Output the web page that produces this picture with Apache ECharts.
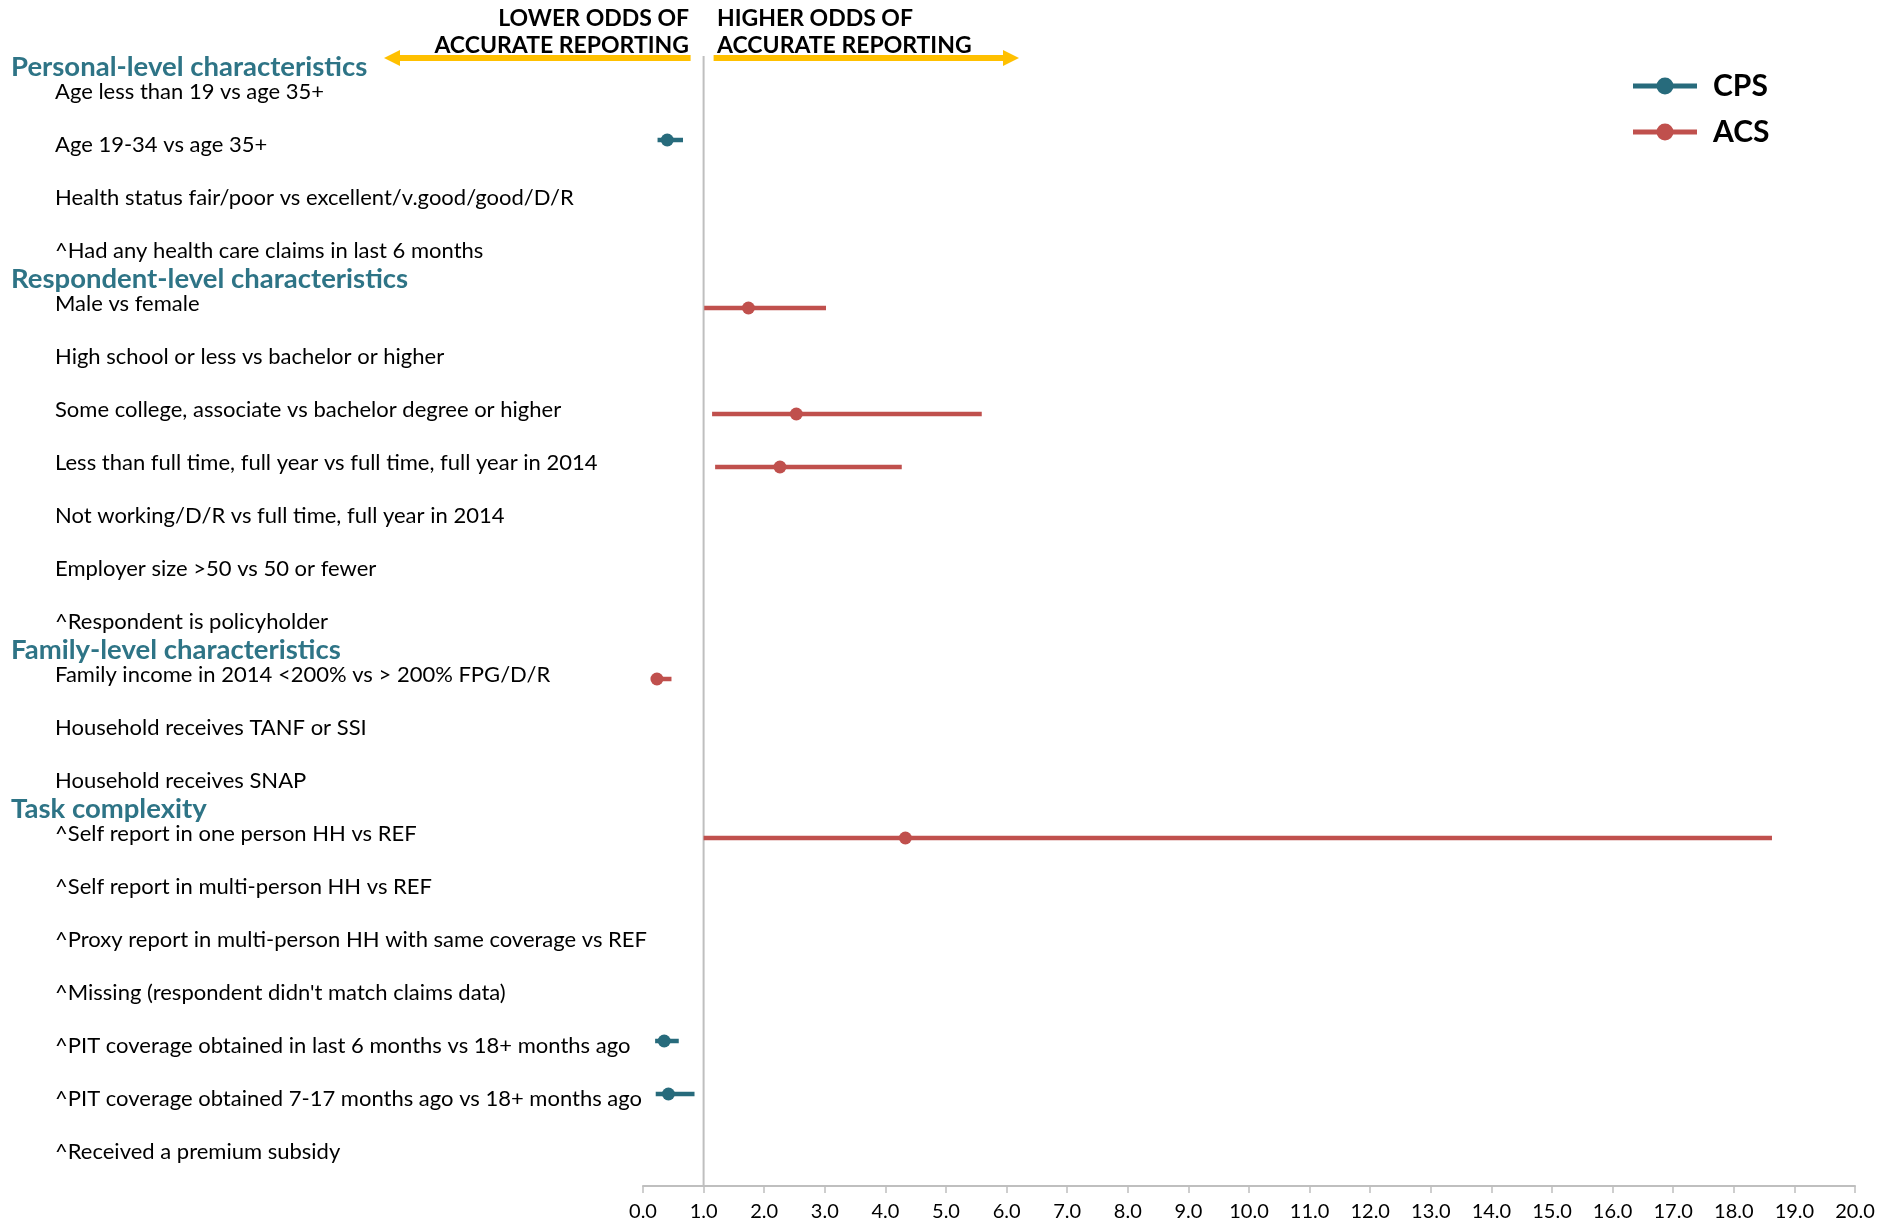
<!DOCTYPE html>
<html>
<head>
<meta charset="utf-8">
<script src="https://cdn.jsdelivr.net/npm/echarts@6/dist/echarts.min.js"></script>
<style>
  html, body { margin: 0; padding: 0; background: #ffffff; }
  #chart { width: 1881px; height: 1222px; }
</style>
</head>
<body>
<div id="chart"></div>
<script>
// Row labels, top to bottom
const categories = [
  'Age less than 19 vs age 35+',
  'Age 19-34 vs age 35+',
  'Health status fair/poor vs excellent/v.good/good/D/R',
  '^Had any health care claims in last 6 months',
  'Male vs female',
  'High school or less vs bachelor or higher',
  'Some college, associate vs bachelor degree or higher',
  'Less than full time, full year vs full time, full year in 2014',
  'Not working/D/R vs full time, full year in 2014',
  'Employer size >50 vs 50 or fewer',
  '^Respondent is policyholder',
  'Family income in 2014 <200% vs > 200% FPG/D/R',
  'Household receives TANF or SSI',
  'Household receives SNAP',
  '^Self report in one person HH vs REF',
  '^Self report in multi-person HH vs REF',
  '^Proxy report in multi-person HH with same coverage vs REF',
  "^Missing (respondent didn't match claims data)",
  '^PIT coverage obtained in last 6 months vs 18+ months ago',
  '^PIT coverage obtained 7-17 months ago vs 18+ months ago',
  '^Received a premium subsidy'
];

// Group headings and the row each one sits above
const sectionNames = [
  'Personal-level characteristics',
  'Respondent-level characteristics',
  'Family-level characteristics',
  'Task complexity'
];
const sectionFirstRow = [0, 4, 11, 14];

// CPS odds ratios with confidence interval
const cpsRows  = [1, 18, 19];
const cpsPoint = [0.40, 0.35, 0.42];
const cpsLow   = [0.24, 0.20, 0.21];
const cpsHigh  = [0.66, 0.59, 0.85];

// ACS odds ratios with confidence interval
const acsRows  = [4, 6, 7, 11, 14];
const acsPoint = [1.74, 2.53, 2.26, 0.23, 4.33];
const acsLow   = [1.01, 1.14, 1.19, 0.17, 1.00];
const acsHigh  = [3.02, 5.59, 4.27, 0.47, 18.63];

// Odds-ratio axis
const xMin = 0;
const xMax = 20;
const xStep = 1;
const referenceValue = 1;

const CPS_COLOR = '#276B7C';
const ACS_COLOR = '#C0504D';
const HEAD_COLOR = '#2E7486';
const ARROW_COLOR = '#FFC000';
const GRID_COLOR = '#BFBFBF';
const FONT = 'Lato, "Open Sans", sans-serif';

function rowsToData(rows, low, high, point) {
  return rows.map((r, i) => [r, low[i], high[i], point[i]]);
}

// Interval line plus point marker, nudged up or down inside its row
function errorBar(shiftY) {
  return function (params, api) {
    const row = api.value(0);
    const a = api.coord([api.value(1), row]);
    const b = api.coord([api.value(2), row]);
    const m = api.coord([api.value(3), row]);
    const color = api.visual('color');
    return {
      type: 'group',
      children: [
        { type: 'line',
          shape: { x1: a[0], y1: a[1] + shiftY, x2: b[0], y2: b[1] + shiftY },
          style: { stroke: color, lineWidth: 4.5 } },
        { type: 'circle',
          shape: { cx: m[0], cy: m[1] + shiftY, r: 6.5 },
          style: { fill: color } }
      ]
    };
  };
}

const legendIcon = 'path://M0,6 L64,6 L64,11 L0,11 Z M32,0 A8.5,8.5 0 1 1 32,17 A8.5,8.5 0 1 1 32,0 Z';

const chart = echarts.init(document.getElementById('chart'), null, { renderer: 'canvas' });

chart.setOption({
  animation: false,
  backgroundColor: '#ffffff',
  grid: { left: 643, right: 26, top: 65, bottom: 44, containLabel: false },
  legend: {
    orient: 'vertical',
    left: 1628,
    top: 66,
    itemWidth: 64,
    itemHeight: 17,
    itemGap: 16,
    icon: legendIcon,
    textStyle: { fontFamily: FONT, fontWeight: 'bold', fontSize: 30, color: '#000', padding: [0, 0, 0, 11] },
    data: ['CPS', 'ACS']
  },
  xAxis: {
    type: 'value',
    min: xMin,
    max: xMax,
    interval: xStep,
    offset: 8,
    splitLine: { show: false },
    axisLine: { show: true, lineStyle: { color: GRID_COLOR, width: 2 } },
    axisTick: { show: true, length: 7, lineStyle: { color: GRID_COLOR, width: 1.5 } },
    axisLabel: {
      margin: 16,
      fontFamily: FONT,
      fontSize: 20,
      color: '#000',
      formatter: v => v.toFixed(1)
    }
  },
  yAxis: {
    type: 'category',
    data: categories,
    inverse: true,
    axisLine: { show: false },
    axisTick: { show: false },
    splitLine: { show: false },
    axisLabel: {
      align: 'left',
      margin: 588,
      fontFamily: FONT,
      fontSize: 22,
      color: '#000',
      padding: [0, 0, 8, 0],
      interval: 0
    }
  },
  series: [
    {
      name: 'CPS',
      type: 'custom',
      itemStyle: { color: CPS_COLOR },
      encode: { x: [1, 2, 3], y: 0 },
      renderItem: errorBar(-4.5),
      data: rowsToData(cpsRows, cpsLow, cpsHigh, cpsPoint),
      z: 3
    },
    {
      name: 'ACS',
      type: 'custom',
      itemStyle: { color: ACS_COLOR },
      encode: { x: [1, 2, 3], y: 0 },
      renderItem: errorBar(4.5),
      data: rowsToData(acsRows, acsLow, acsHigh, acsPoint),
      z: 3
    }
  ]
});

// Reference line at odds ratio 1, headings and direction arrows
const refX = chart.convertToPixel({ xAxisIndex: 0 }, referenceValue);
const axisY = chart.getHeight() - 44 + 8;
const bandHalf = (chart.convertToPixel({ yAxisIndex: 0 }, 1) - chart.convertToPixel({ yAxisIndex: 0 }, 0)) / 2;

const headings = sectionNames.map((name, i) => ({
  type: 'text',
  x: 11,
  y: chart.convertToPixel({ yAxisIndex: 0 }, sectionFirstRow[i]) - bandHalf + 2,
  style: { text: name, align: 'left', verticalAlign: 'middle', fontFamily: FONT, fontWeight: 'bold', fontSize: 27.5, fill: HEAD_COLOR }
}));

const arrowY = 58;
const graphics = [
  { type: 'line', shape: { x1: refX, y1: 56, x2: refX, y2: axisY }, style: { stroke: GRID_COLOR, lineWidth: 2 }, z: 1 },
  // left-pointing arrow
  { type: 'rect', shape: { x: 398, y: arrowY - 3, width: refX - 13 - 398, height: 6 }, style: { fill: ARROW_COLOR } },
  { type: 'polygon', shape: { points: [[384, arrowY], [400, arrowY - 8], [400, arrowY + 8]] }, style: { fill: ARROW_COLOR } },
  // right-pointing arrow
  { type: 'rect', shape: { x: refX + 10, y: arrowY - 3, width: 1004 - refX - 10, height: 6 }, style: { fill: ARROW_COLOR } },
  { type: 'polygon', shape: { points: [[1019, arrowY], [1003, arrowY - 8], [1003, arrowY + 8]] }, style: { fill: ARROW_COLOR } },
  { type: 'text', x: 689, y: 5,
    style: { text: 'LOWER ODDS OF\nACCURATE REPORTING', align: 'right', verticalAlign: 'top', fontFamily: FONT, fontWeight: 'bold', fontSize: 23, lineHeight: 27, fill: '#000' } },
  { type: 'text', x: 717, y: 5,
    style: { text: 'HIGHER ODDS OF\nACCURATE REPORTING', align: 'left', verticalAlign: 'top', fontFamily: FONT, fontWeight: 'bold', fontSize: 23, lineHeight: 27, fill: '#000' } }
].concat(headings);

chart.setOption({ graphic: graphics });
</script>
</body>
</html>
